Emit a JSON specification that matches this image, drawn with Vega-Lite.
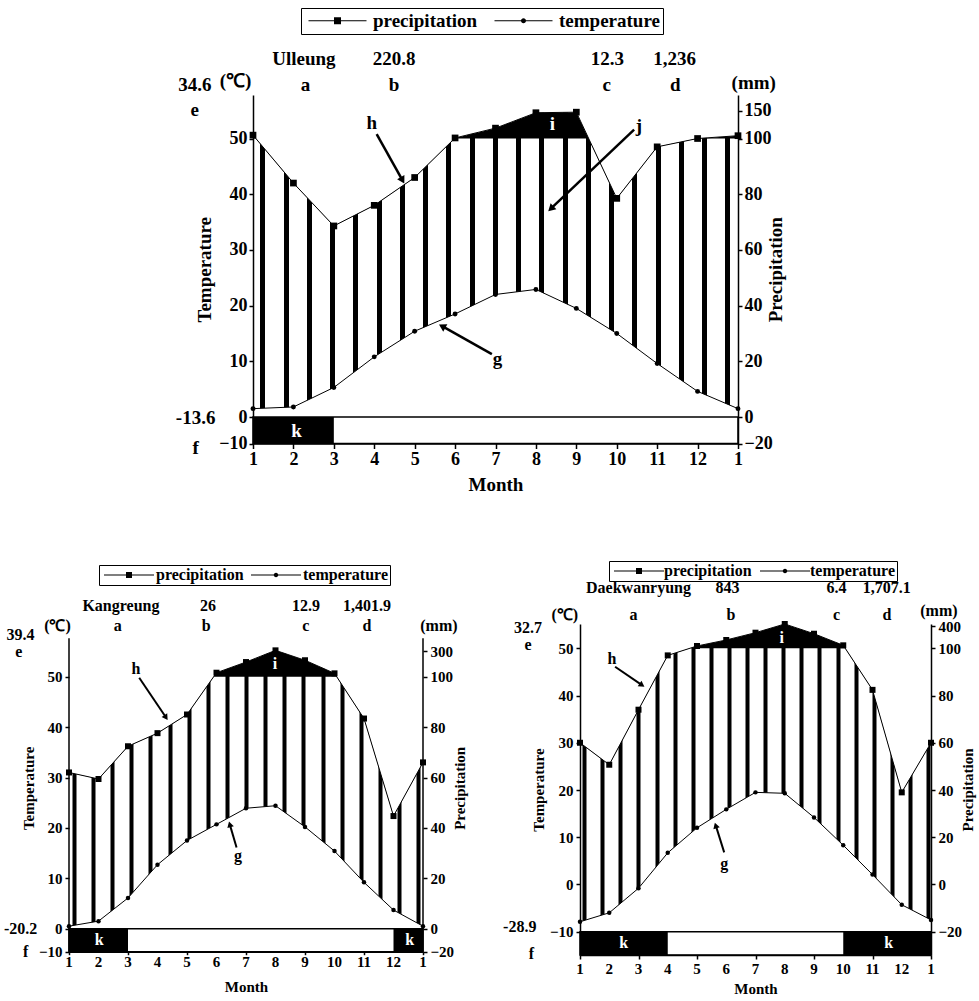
{
"$schema":"https://vega.github.io/schema/vega-lite/v6.json",
"background":"white",
"padding":{"left":3,"top":7,"right":2,"bottom":2},
"config":{
 "view":{"stroke":null},
 "axis":{"labelFont":"Liberation Serif","labelFontWeight":"bold","titleFont":"Liberation Serif","titleFontWeight":"bold","labelColor":"black","titleColor":"black","domainColor":"black","tickColor":"black","domainWidth":1.5,"tickWidth":1.5,"grid":false,"labelFlush":false,"labelOverlap":false},
 "text":{"font":"Liberation Serif","fontWeight":"bold","align":"center","baseline":"middle","color":"black"},
 "legend":{"labelFont":"Liberation Serif","labelFontWeight":"bold","labelColor":"black"}
},
"datasets":{
 "one":[{"k":1}],
 "series":[{"series":"precipitation"},{"series":"temperature"}],
 "u_month":[{"m":1,"T":1.5,"P":106},{"m":2,"T":1.8,"P":84},{"m":3,"T":5.3,"P":68.6},{"m":4,"T":10.8,"P":76},{"m":5,"T":15.4,"P":86},{"m":6,"T":18.5,"P":101},{"m":7,"T":22.0,"P":118.5},{"m":8,"T":22.9,"P":146},{"m":9,"T":19.5,"P":147},{"m":10,"T":15.0,"P":78.5},{"m":11,"T":9.6,"P":97},{"m":12,"T":4.6,"P":100},{"m":13,"T":1.5,"P":105}],
 "k_month":[{"m":1,"lab":"1","T":0.5,"P":62},{"m":2,"lab":"2","T":1.5,"P":59.4},{"m":3,"lab":"3","T":6.1,"P":72.4},{"m":4,"lab":"4","T":12.7,"P":77.6},{"m":5,"lab":"5","T":17.5,"P":85},{"m":6,"lab":"6","T":20.7,"P":131},{"m":7,"lab":"7","T":23.9,"P":214},{"m":8,"lab":"8","T":24.4,"P":305},{"m":9,"lab":"9","T":20.2,"P":228},{"m":10,"lab":"10","T":15.4,"P":126},{"m":11,"lab":"11","T":9.2,"P":83.4},{"m":12,"lab":"12","T":3.7,"P":44.7},{"m":13,"lab":"1","T":0.5,"P":66}],
 "d_month":[{"m":1,"lab":"1","T":-7.9,"P":60},{"m":2,"lab":"2","T":-6.0,"P":50.7},{"m":3,"lab":"3","T":-0.8,"P":74},{"m":4,"lab":"4","T":6.7,"P":97},{"m":5,"lab":"5","T":12.0,"P":131},{"m":6,"lab":"6","T":15.9,"P":212},{"m":7,"lab":"7","T":19.5,"P":310},{"m":8,"lab":"8","T":19.3,"P":423},{"m":9,"lab":"9","T":14.2,"P":296},{"m":10,"lab":"10","T":8.3,"P":140},{"m":11,"lab":"11","T":2.1,"P":82.4},{"m":12,"lab":"12","T":-4.3,"P":39},{"m":13,"lab":"1","T":-7.5,"P":60}],
 "u_frost":[{"from":1,"to":3}],
 "k_frost":[{"from":1,"to":3},{"from":12,"to":13}],
 "d_frost":[{"from":1,"to":4},{"from":10,"to":13}],
 "u_info":[{"station":"Ulleung","altitude":"220.8","meanTemp":"12.3","annualPrecip":"1,236","maxTemp":"34.6","minTemp":"-13.6"}],
 "k_info":[{"station":"Kangreung","altitude":"26","meanTemp":"12.9","annualPrecip":"1,401.9","maxTemp":"39.4","minTemp":"-20.2"}],
 "d_info":[{"station":"Daekwanryung","altitude":"843","meanTemp":"6.4","annualPrecip":"1,707.1","maxTemp":"32.7","minTemp":"-28.9"}]
},
"spacing":65,
"resolve":{"scale":{"shape":"independent"},"legend":{"shape":"independent"}},
"vconcat":[
 {"hconcat":[
  {"width":184,"height":1,"data":{"name":"one"},"mark":{"type":"point","opacity":0},"encoding":{}},
  {"width":485,"height":348.5,
   "resolve":{"scale":{"y":"independent"},"axis":{"x":"independent"}},
   "layer":[
    {"data":{"name":"u_month"},
     "encoding":{
      "x":{"field":"m","type":"quantitative","scale":{"domain":[1,13],"nice":false,"zero":false},
       "axis":{"orient":"top","values":[1.233,1.808,2.383,2.959,3.534,4.109,4.684,5.259,5.835,6.41,6.985,7.56,8.135,8.711,9.286,9.861,10.436,11.011,11.587,12.162,12.737],"grid":true,"gridColor":"black","gridWidth":5,"gridOpacity":1,"labels":false,"ticks":false,"domain":false,"title":null,"zindex":0}},
      "y":{"field":"P","type":"quantitative","stack":null,"scale":{"domain":[-20,0,100,150,177.7],"range":[348.5,322,43.5,15.5,0],"nice":false,"zero":false},"axis":null}},
     "layer":[
      {"mark":{"type":"area","color":"black","opacity":1},"encoding":{"y2":{"datum":100}}},
      {"mark":{"type":"area","color":"white","opacity":1},"encoding":{"y2":{"datum":177.7}}}
     ]},
    {"layer":[
     {"data":{"name":"u_month"},"mark":{"type":"area","color":"white","opacity":1},
      "encoding":{
       "x":{"field":"m","type":"quantitative","axis":{"orient":"bottom","values":[1,2,3,4,5,6,7,8,9,10,11,12,13],"labelExpr":"datum.value == 13 ? '1' : datum.label","format":"d","title":"Month","labelFontSize":18,"titleFontSize":19,"tickSize":5,"labelPadding":2,"titlePadding":7,"labelOverlap":false,"zindex":1}},
       "y":{"field":"T","type":"quantitative","stack":null,"scale":{"domain":[-10,0,50,57.81],"range":[348.5,322,43.5,0],"nice":false,"zero":false},
        "axis":{"orient":"left","values":[-10,0,10,20,30,40,50],"title":"Temperature","labelFontSize":18,"titleFontSize":19,"tickSize":4,"labelPadding":2,"titlePadding":4,"zindex":1}},
       "y2":{"datum":-10}}},
     {"data":{"name":"u_month"},"mark":{"type":"line","color":"black","strokeWidth":1},"encoding":{"x":{"field":"m","type":"quantitative"},"y":{"field":"T","type":"quantitative"}}},
     {"data":{"name":"u_month"},"mark":{"type":"point","shape":"circle","filled":true,"color":"black","size":24,"opacity":1},"encoding":{"x":{"field":"m","type":"quantitative"},"y":{"field":"T","type":"quantitative"}}},
     {"data":{"name":"one"},"mark":{"type":"rect","fill":"white","stroke":"black","strokeWidth":1.5},"encoding":{"x":{"datum":1},"x2":{"datum":13},"y":{"datum":0},"y2":{"datum":-10}}},
     {"data":{"name":"u_frost"},"mark":{"type":"rect","color":"black"},"encoding":{"x":{"field":"from","type":"quantitative"},"x2":{"field":"to"},"y":{"datum":0},"y2":{"datum":-10}}},
     {"data":{"name":"one"},"mark":{"type":"text","text":"k","color":"white","fontSize":19},"encoding":{"x":{"datum":2.08},"y":{"datum":-5.2}}},
     {"data":{"name":"u_info"},"mark":{"type":"text","fontSize":19},"encoding":{"x":{"datum":2.26},"y":{"datum":64.2},"text":{"field":"station"}}},
     {"data":{"name":"u_info"},"mark":{"type":"text","fontSize":19,"text":"a"},"encoding":{"x":{"datum":2.3},"y":{"datum":59.6}}},
     {"data":{"name":"u_info"},"mark":{"type":"text","fontSize":19},"encoding":{"x":{"datum":4.49},"y":{"datum":64.2},"text":{"field":"altitude"}}},
     {"data":{"name":"u_info"},"mark":{"type":"text","fontSize":19,"text":"b"},"encoding":{"x":{"datum":4.49},"y":{"datum":59.6}}},
     {"data":{"name":"u_info"},"mark":{"type":"text","fontSize":19},"encoding":{"x":{"datum":9.77},"y":{"datum":64.2},"text":{"field":"meanTemp"}}},
     {"data":{"name":"u_info"},"mark":{"type":"text","fontSize":19,"text":"c"},"encoding":{"x":{"datum":9.75},"y":{"datum":59.6}}},
     {"data":{"name":"u_info"},"mark":{"type":"text","fontSize":19},"encoding":{"x":{"datum":11.43},"y":{"datum":64.2},"text":{"field":"annualPrecip"}}},
     {"data":{"name":"u_info"},"mark":{"type":"text","fontSize":19,"text":"d"},"encoding":{"x":{"datum":11.45},"y":{"datum":59.6}}},
     {"data":{"name":"u_info"},"mark":{"type":"text","fontSize":19},"encoding":{"x":{"datum":-0.44},"y":{"datum":59.6},"text":{"field":"maxTemp"}}},
     {"data":{"name":"u_info"},"mark":{"type":"text","fontSize":19,"text":"e"},"encoding":{"x":{"datum":-0.44},"y":{"datum":55.1}}},
     {"data":{"name":"u_info"},"mark":{"type":"text","fontSize":19},"encoding":{"x":{"datum":-0.42},"y":{"datum":-0.3},"text":{"field":"minTemp"}}},
     {"data":{"name":"u_info"},"mark":{"type":"text","fontSize":19,"text":"f"},"encoding":{"x":{"datum":-0.42},"y":{"datum":-11.6}}},
     {"data":{"name":"u_info"},"mark":{"type":"text","fontSize":19,"text":"(℃)"},"encoding":{"x":{"datum":0.57},"y":{"datum":60.3}}},
     {"data":{"name":"u_info"},"mark":{"type":"text","fontSize":19,"text":"(mm)"},"encoding":{"x":{"datum":13.39},"y":{"datum":59.9}}},
     {"data":{"name":"u_info"},"mark":{"type":"text","fontSize":19,"text":"h"},"encoding":{"x":{"datum":3.94},"y":{"datum":52.8}}},
     {"data":{"name":"u_info"},"mark":{"type":"text","fontSize":19,"text":"i","color":"white"},"encoding":{"x":{"datum":8.41},"y":{"datum":52.6}}},
     {"data":{"name":"u_info"},"mark":{"type":"text","fontSize":19,"text":"j"},"encoding":{"x":{"datum":10.55},"y":{"datum":52.2}}},
     {"data":{"name":"u_info"},"mark":{"type":"text","fontSize":19,"text":"g"},"encoding":{"x":{"datum":7.05},"y":{"datum":10.4}}},
     {"data":{"name":"one"},"mark":{"type":"rule","color":"black","strokeWidth":2.5},"encoding":{"x":{"datum":4.06},"y":{"datum":50.8},"x2":{"datum":4.7},"y2":{"datum":42.5}}},
     {"data":{"name":"one"},"mark":{"type":"point","shape":"triangle-up","filled":true,"color":"black","size":70,"opacity":1,"angle":150.6},"encoding":{"x":{"datum":4.7},"y":{"datum":42.5}}},
     {"data":{"name":"one"},"mark":{"type":"rule","color":"black","strokeWidth":2.5},"encoding":{"x":{"datum":6.91},"y":{"datum":11.3},"x2":{"datum":5.68},"y2":{"datum":16.3}}},
     {"data":{"name":"one"},"mark":{"type":"point","shape":"triangle-up","filled":true,"color":"black","size":70,"opacity":1,"angle":299.7},"encoding":{"x":{"datum":5.68},"y":{"datum":16.3}}},
     {"data":{"name":"one"},"mark":{"type":"rule","color":"black","strokeWidth":2.5},"encoding":{"x":{"datum":10.43},"y":{"datum":51.6},"x2":{"datum":8.37},"y2":{"datum":37.4}}},
     {"data":{"name":"one"},"mark":{"type":"point","shape":"triangle-up","filled":true,"color":"black","size":70,"opacity":1,"angle":226.4},"encoding":{"x":{"datum":8.37},"y":{"datum":37.4}}},
     {"data":{"name":"series"},"mark":{"type":"point","filled":true,"color":"black","size":100,"opacity":0},
      "encoding":{"x":{"datum":7},"y":{"datum":20},
       "shape":{"field":"series","type":"nominal","scale":{"domain":["precipitation","temperature"],"range":["M-5.8,-0.12H5.8V0.12H-5.8ZM-0.7,-0.7H0.7V0.7H-0.7Z","M-5.8,-0.12H5.8V0.12H-5.8ZM-0.5,0A0.5,0.5,0,1,1,0.5,0A0.5,0.5,0,1,1,-0.5,0Z"]},
        "legend":{"title":null,"orient":"none","legendX":48,"legendY":-87,"direction":"horizontal","strokeColor":"black","fillColor":"white","padding":3,"symbolSize":100,"symbolOffset":24,"labelOffset":26,"columnPadding":12,"labelFontSize":19,"symbolFillColor":"black","symbolStrokeColor":"black","symbolStrokeWidth":0}}}}
    ]},
    {"data":{"name":"u_month"},
     "encoding":{"x":{"field":"m","type":"quantitative","axis":null},
      "y":{"field":"P","type":"quantitative","scale":{"domain":[-20,0,100,150,177.7],"range":[348.5,322,43.5,15.5,0],"nice":false,"zero":false},
       "axis":{"orient":"right","values":[-20,0,20,40,60,80,100,150],"title":"Precipitation","titleAngle":270,"labelFontSize":18,"titleFontSize":19,"tickSize":4,"labelPadding":2,"titlePadding":13,"zindex":1}}},
     "layer":[
      {"mark":{"type":"line","color":"black","strokeWidth":1}},
      {"mark":{"type":"point","shape":"square","filled":true,"color":"black","size":45,"opacity":1}}
     ]}
   ]}
 ],"spacing":0,"bounds":"flush","resolve":{"scale":{"shape":"independent"},"legend":{"shape":"independent"}}},
 {"hconcat":[
  {"width":354,"height":327.7,
   "resolve":{"scale":{"y":"independent"},"axis":{"x":"independent"}},
   "layer":[
    {"data":{"name":"k_month"},
     "encoding":{
      "x":{"field":"m","type":"quantitative","scale":{"domain":[1,13],"nice":false,"zero":false},
       "axis":{"orient":"top","values":[1.17,1.818,2.466,3.114,3.762,4.41,5.058,5.706,6.354,7.002,7.65,8.298,8.946,9.594,10.242,10.89,11.538,12.186,12.834],"grid":true,"gridColor":"black","gridWidth":4,"gridOpacity":1,"labels":false,"ticks":false,"domain":false,"title":null,"zindex":0}},
      "y":{"field":"P","type":"quantitative","stack":null,"scale":{"domain":[-20,0,100,300,510],"range":[327.7,304.7,52.7,27,0],"nice":false,"zero":false},"axis":null}},
     "layer":[
      {"mark":{"type":"area","color":"black","opacity":1},"encoding":{"y2":{"datum":100}}},
      {"mark":{"type":"area","color":"white","opacity":1},"encoding":{"y2":{"datum":510}}}
     ]},
    {"layer":[
     {"data":{"name":"k_month"},"mark":{"type":"area","color":"white","opacity":1},
      "encoding":{
       "x":{"field":"m","type":"quantitative","axis":{"orient":"bottom","values":[1,2,3,4,5,6,7,8,9,10,11,12,13],"labels":false,"title":"Month","titleFontSize":15,"tickSize":3,"titlePadding":24,"zindex":1}},
       "y":{"field":"T","type":"quantitative","stack":null,"scale":{"domain":[-10,0,50,60.46],"range":[327.7,304.7,52.7,0],"nice":false,"zero":false},
        "axis":{"orient":"left","values":[-10,0,10,20,30,40,50],"title":"Temperature","labelFontSize":15,"titleFontSize":15,"tickSize":4,"labelPadding":3,"titlePadding":2,"domain":false,"zindex":1}},
       "y2":{"datum":-10}}},
     {"data":{"name":"k_month"},"mark":{"type":"line","color":"black","strokeWidth":1},"encoding":{"x":{"field":"m","type":"quantitative"},"y":{"field":"T","type":"quantitative"}}},
     {"data":{"name":"k_month"},"mark":{"type":"point","shape":"circle","filled":true,"color":"black","size":20,"opacity":1},"encoding":{"x":{"field":"m","type":"quantitative"},"y":{"field":"T","type":"quantitative"}}},
     {"data":{"name":"k_month"},"mark":{"type":"text","fontSize":15,"dy":10},"encoding":{"x":{"field":"m","type":"quantitative"},"y":{"datum":-10},"text":{"field":"lab"}}},
     {"data":{"name":"one"},"mark":{"type":"rule","color":"black","strokeWidth":1.5},"encoding":{"x":{"datum":1},"y":{"datum":-10},"y2":{"datum":57.62}}},
     {"data":{"name":"one"},"mark":{"type":"rule","color":"black","strokeWidth":1.5},"encoding":{"x":{"datum":13},"y":{"datum":-10},"y2":{"datum":57.62}}},
     {"data":{"name":"one"},"mark":{"type":"rect","fill":"white","stroke":"black","strokeWidth":1.5},"encoding":{"x":{"datum":1},"x2":{"datum":13},"y":{"datum":0},"y2":{"datum":-10}}},
     {"data":{"name":"k_frost"},"mark":{"type":"rect","color":"black"},"encoding":{"x":{"field":"from","type":"quantitative"},"x2":{"field":"to"},"y":{"datum":0},"y2":{"datum":-10}}},
     {"data":{"name":"one"},"mark":{"type":"text","text":"k","color":"white","fontSize":16},"encoding":{"x":{"datum":2.02},"y":{"datum":-5}}},
     {"data":{"name":"one"},"mark":{"type":"text","text":"k","color":"white","fontSize":16},"encoding":{"x":{"datum":12.55},"y":{"datum":-5}}},
     {"data":{"name":"k_info"},"mark":{"type":"text","fontSize":16},"encoding":{"x":{"datum":2.76},"y":{"datum":64.0},"text":{"field":"station"}}},
     {"data":{"name":"k_info"},"mark":{"type":"text","fontSize":16,"text":"a"},"encoding":{"x":{"datum":2.65},"y":{"datum":60.1}}},
     {"data":{"name":"k_info"},"mark":{"type":"text","fontSize":16},"encoding":{"x":{"datum":5.71},"y":{"datum":64.0},"text":{"field":"altitude"}}},
     {"data":{"name":"k_info"},"mark":{"type":"text","fontSize":16,"text":"b"},"encoding":{"x":{"datum":5.65},"y":{"datum":60.1}}},
     {"data":{"name":"k_info"},"mark":{"type":"text","fontSize":16},"encoding":{"x":{"datum":9.03},"y":{"datum":64.0},"text":{"field":"meanTemp"}}},
     {"data":{"name":"k_info"},"mark":{"type":"text","fontSize":16,"text":"c"},"encoding":{"x":{"datum":9.03},"y":{"datum":60.1}}},
     {"data":{"name":"k_info"},"mark":{"type":"text","fontSize":16},"encoding":{"x":{"datum":11.1},"y":{"datum":64.0},"text":{"field":"annualPrecip"}}},
     {"data":{"name":"k_info"},"mark":{"type":"text","fontSize":16,"text":"d"},"encoding":{"x":{"datum":11.1},"y":{"datum":60.1}}},
     {"data":{"name":"k_info"},"mark":{"type":"text","fontSize":16},"encoding":{"x":{"datum":-0.64},"y":{"datum":58.3},"text":{"field":"maxTemp"}}},
     {"data":{"name":"k_info"},"mark":{"type":"text","fontSize":16,"text":"e"},"encoding":{"x":{"datum":-0.7},"y":{"datum":54.9}}},
     {"data":{"name":"k_info"},"mark":{"type":"text","fontSize":16},"encoding":{"x":{"datum":-0.64},"y":{"datum":0},"text":{"field":"minTemp"}}},
     {"data":{"name":"k_info"},"mark":{"type":"text","fontSize":16,"text":"f"},"encoding":{"x":{"datum":-0.47},"y":{"datum":-10.1}}},
     {"data":{"name":"k_info"},"mark":{"type":"text","fontSize":16,"text":"(℃)"},"encoding":{"x":{"datum":0.61},"y":{"datum":60.1}}},
     {"data":{"name":"k_info"},"mark":{"type":"text","fontSize":16,"text":"(mm)"},"encoding":{"x":{"datum":13.54},"y":{"datum":60.1}}},
     {"data":{"name":"k_info"},"mark":{"type":"text","fontSize":16,"text":"h"},"encoding":{"x":{"datum":3.27},"y":{"datum":51.5}}},
     {"data":{"name":"k_info"},"mark":{"type":"text","fontSize":16,"text":"i","color":"white"},"encoding":{"x":{"datum":7.98},"y":{"datum":52.5}}},
     {"data":{"name":"k_info"},"mark":{"type":"text","fontSize":16,"text":"g"},"encoding":{"x":{"datum":6.73},"y":{"datum":14.4}}},
     {"data":{"name":"one"},"mark":{"type":"rule","color":"black","strokeWidth":2},"encoding":{"x":{"datum":3.38},"y":{"datum":49.8},"x2":{"datum":4.29},"y2":{"datum":41.9}}},
     {"data":{"name":"one"},"mark":{"type":"point","shape":"triangle-up","filled":true,"color":"black","size":45,"opacity":1,"angle":146.3},"encoding":{"x":{"datum":4.29},"y":{"datum":41.9}}},
     {"data":{"name":"one"},"mark":{"type":"rule","color":"black","strokeWidth":2},"encoding":{"x":{"datum":6.68},"y":{"datum":16.1},"x2":{"datum":6.45},"y2":{"datum":20.7}}},
     {"data":{"name":"one"},"mark":{"type":"point","shape":"triangle-up","filled":true,"color":"black","size":45,"opacity":1,"angle":344},"encoding":{"x":{"datum":6.45},"y":{"datum":20.7}}},
     {"data":{"name":"series"},"mark":{"type":"point","filled":true,"color":"black","size":100,"opacity":0},
      "encoding":{"x":{"datum":7},"y":{"datum":20},
       "shape":{"field":"series","type":"nominal","scale":{"domain":["precipitation","temperature"],"range":["M-5,-0.12H5V0.12H-5ZM-0.6,-0.6H0.6V0.6H-0.6Z","M-5,-0.12H5V0.12H-5ZM-0.45,0A0.45,0.45,0,1,1,0.45,0A0.45,0.45,0,1,1,-0.45,0Z"]},
        "legend":{"title":null,"orient":"none","legendX":30,"legendY":-59,"direction":"horizontal","strokeColor":"black","fillColor":"white","padding":2,"symbolSize":100,"symbolOffset":20,"labelOffset":19,"columnPadding":4,"labelFontSize":16,"symbolFillColor":"black","symbolStrokeColor":"black","symbolStrokeWidth":0}}}}
    ]},
    {"data":{"name":"k_month"},
     "encoding":{"x":{"field":"m","type":"quantitative","axis":null},
      "y":{"field":"P","type":"quantitative","scale":{"domain":[-20,0,100,300,510],"range":[327.7,304.7,52.7,27,0],"nice":false,"zero":false},
       "axis":{"orient":"right","values":[-20,0,20,40,60,80,100,300],"title":"Precipitation","titleAngle":270,"labelFontSize":15,"titleFontSize":15,"tickSize":4,"labelPadding":3,"titlePadding":14,"domain":false,"zindex":1}}},
     "layer":[
      {"mark":{"type":"line","color":"black","strokeWidth":1}},
      {"mark":{"type":"point","shape":"square","filled":true,"color":"black","size":36,"opacity":1}}
     ]}
   ]},
  {"width":351,"height":331,
   "resolve":{"scale":{"y":"independent"},"axis":{"x":"independent"}},
   "layer":[
    {"data":{"name":"d_month"},
     "encoding":{
      "x":{"field":"m","type":"quantitative","scale":{"domain":[1,13],"nice":false,"zero":false},
       "axis":{"orient":"top","values":[1.14,1.759,2.378,2.997,3.616,4.235,4.854,5.473,6.092,6.711,7.33,7.949,8.568,9.187,9.806,10.425,11.044,11.663,12.282,12.901],"grid":true,"gridColor":"black","gridWidth":4,"gridOpacity":1,"labels":false,"ticks":false,"domain":false,"title":null,"zindex":0}},
      "y":{"field":"P","type":"quantitative","stack":null,"scale":{"domain":[-30,-20,100,400,423],"range":[331,307.7,24.3,2,0],"nice":false,"zero":false},"axis":null}},
     "layer":[
      {"mark":{"type":"area","color":"black","opacity":1},"encoding":{"y2":{"datum":100}}},
      {"mark":{"type":"area","color":"white","opacity":1},"encoding":{"y2":{"datum":423}}}
     ]},
    {"layer":[
     {"data":{"name":"d_month"},"mark":{"type":"area","color":"white","opacity":1},
      "encoding":{
       "x":{"field":"m","type":"quantitative","axis":{"orient":"bottom","values":[1,2,3,4,5,6,7,8,9,10,11,12,13],"labels":false,"title":"Month","titleFontSize":15,"tickSize":4,"titlePadding":22,"zindex":1}},
       "y":{"field":"T","type":"quantitative","stack":null,"scale":{"domain":[-15,-10,50,55.15],"range":[331,307.7,24.3,0],"nice":false,"zero":false},
        "axis":{"orient":"left","values":[-10,0,10,20,30,40,50],"title":"Temperature","labelFontSize":15,"titleFontSize":15,"tickSize":4,"labelPadding":3,"titlePadding":3,"zindex":1}},
       "y2":{"datum":-15}}},
     {"data":{"name":"d_month"},"mark":{"type":"line","color":"black","strokeWidth":1},"encoding":{"x":{"field":"m","type":"quantitative"},"y":{"field":"T","type":"quantitative"}}},
     {"data":{"name":"d_month"},"mark":{"type":"point","shape":"circle","filled":true,"color":"black","size":20,"opacity":1},"encoding":{"x":{"field":"m","type":"quantitative"},"y":{"field":"T","type":"quantitative"}}},
     {"data":{"name":"d_month"},"mark":{"type":"text","fontSize":15,"dy":14},"encoding":{"x":{"field":"m","type":"quantitative"},"y":{"datum":-15},"text":{"field":"lab"}}},
     {"data":{"name":"one"},"mark":{"type":"rect","fill":"white","stroke":"black","strokeWidth":1.5},"encoding":{"x":{"datum":1},"x2":{"datum":13},"y":{"datum":-10},"y2":{"datum":-15}}},
     {"data":{"name":"d_frost"},"mark":{"type":"rect","color":"black"},"encoding":{"x":{"field":"from","type":"quantitative"},"x2":{"field":"to"},"y":{"datum":-10},"y2":{"datum":-15}}},
     {"data":{"name":"one"},"mark":{"type":"text","text":"k","color":"white","fontSize":16},"encoding":{"x":{"datum":2.49},"y":{"datum":-12.5}}},
     {"data":{"name":"one"},"mark":{"type":"text","text":"k","color":"white","fontSize":16},"encoding":{"x":{"datum":11.55},"y":{"datum":-12.5}}},
     {"data":{"name":"d_info"},"mark":{"type":"text","fontSize":16},"encoding":{"x":{"datum":3.0},"y":{"datum":62.7},"text":{"field":"station"}}},
     {"data":{"name":"d_info"},"mark":{"type":"text","fontSize":16,"text":"a"},"encoding":{"x":{"datum":2.83},"y":{"datum":57.0}}},
     {"data":{"name":"d_info"},"mark":{"type":"text","fontSize":16},"encoding":{"x":{"datum":6.04},"y":{"datum":62.7},"text":{"field":"altitude"}}},
     {"data":{"name":"d_info"},"mark":{"type":"text","fontSize":16,"text":"b"},"encoding":{"x":{"datum":6.16},"y":{"datum":57.0}}},
     {"data":{"name":"d_info"},"mark":{"type":"text","fontSize":16},"encoding":{"x":{"datum":9.77},"y":{"datum":62.7},"text":{"field":"meanTemp"}}},
     {"data":{"name":"d_info"},"mark":{"type":"text","fontSize":16,"text":"c"},"encoding":{"x":{"datum":9.77},"y":{"datum":57.0}}},
     {"data":{"name":"d_info"},"mark":{"type":"text","fontSize":16},"encoding":{"x":{"datum":11.49},"y":{"datum":62.7},"text":{"field":"annualPrecip"}}},
     {"data":{"name":"d_info"},"mark":{"type":"text","fontSize":16,"text":"d"},"encoding":{"x":{"datum":11.49},"y":{"datum":57.0}}},
     {"data":{"name":"d_info"},"mark":{"type":"text","fontSize":16},"encoding":{"x":{"datum":-0.78},"y":{"datum":54.4},"text":{"field":"maxTemp"}}},
     {"data":{"name":"d_info"},"mark":{"type":"text","fontSize":16,"text":"e"},"encoding":{"x":{"datum":-0.78},"y":{"datum":50.8}}},
     {"data":{"name":"d_info"},"mark":{"type":"text","fontSize":16},"encoding":{"x":{"datum":-1.06},"y":{"datum":-9.05},"text":{"field":"minTemp"}}},
     {"data":{"name":"d_info"},"mark":{"type":"text","fontSize":16,"text":"f"},"encoding":{"x":{"datum":-0.66},"y":{"datum":-14.7}}},
     {"data":{"name":"d_info"},"mark":{"type":"text","fontSize":16,"text":"(℃)"},"encoding":{"x":{"datum":0.48},"y":{"datum":57.0}}},
     {"data":{"name":"d_info"},"mark":{"type":"text","fontSize":16,"text":"(mm)"},"encoding":{"x":{"datum":13.27},"y":{"datum":58.0}}},
     {"data":{"name":"d_info"},"mark":{"type":"text","fontSize":16,"text":"h"},"encoding":{"x":{"datum":2.09},"y":{"datum":47.8}}},
     {"data":{"name":"d_info"},"mark":{"type":"text","fontSize":16,"text":"i","color":"white"},"encoding":{"x":{"datum":7.9},"y":{"datum":52.1}}},
     {"data":{"name":"d_info"},"mark":{"type":"text","fontSize":16,"text":"g"},"encoding":{"x":{"datum":5.93},"y":{"datum":4.4}}},
     {"data":{"name":"one"},"mark":{"type":"rule","color":"black","strokeWidth":2},"encoding":{"x":{"datum":2.2},"y":{"datum":46.1},"x2":{"datum":3.12},"y2":{"datum":42.2}}},
     {"data":{"name":"one"},"mark":{"type":"point","shape":"triangle-up","filled":true,"color":"black","size":45,"opacity":1,"angle":124.4},"encoding":{"x":{"datum":3.12},"y":{"datum":42.2}}},
     {"data":{"name":"one"},"mark":{"type":"rule","color":"black","strokeWidth":2},"encoding":{"x":{"datum":5.93},"y":{"datum":6.8},"x2":{"datum":5.64},"y2":{"datum":12.5}}},
     {"data":{"name":"one"},"mark":{"type":"point","shape":"triangle-up","filled":true,"color":"black","size":45,"opacity":1,"angle":342.7},"encoding":{"x":{"datum":5.64},"y":{"datum":12.5}}},
     {"data":{"name":"series"},"mark":{"type":"point","filled":true,"color":"black","size":100,"opacity":0},
      "encoding":{"x":{"datum":7},"y":{"datum":20},
       "shape":{"field":"series","type":"nominal","scale":{"domain":["precipitation","temperature"],"range":["M-5,-0.12H5V0.12H-5ZM-0.6,-0.6H0.6V0.6H-0.6Z","M-5,-0.12H5V0.12H-5ZM-0.45,0A0.45,0.45,0,1,1,0.45,0A0.45,0.45,0,1,1,-0.45,0Z"]},
        "legend":{"title":null,"orient":"none","legendX":29,"legendY":-63,"direction":"horizontal","strokeColor":"black","fillColor":"white","padding":2,"symbolSize":100,"symbolOffset":20,"labelOffset":17,"columnPadding":5,"labelFontSize":16,"symbolFillColor":"black","symbolStrokeColor":"black","symbolStrokeWidth":0}}}}
    ]},
    {"data":{"name":"d_month"},
     "encoding":{"x":{"field":"m","type":"quantitative","axis":null},
      "y":{"field":"P","type":"quantitative","scale":{"domain":[-30,-20,100,400,423],"range":[331,307.7,24.3,2,0],"nice":false,"zero":false},
       "axis":{"orient":"right","values":[-20,0,20,40,60,80,100,400],"title":"Precipitation","titleAngle":270,"labelFontSize":15,"titleFontSize":15,"tickSize":4,"labelPadding":3,"titlePadding":14,"zindex":1}}},
     "layer":[
      {"mark":{"type":"line","color":"black","strokeWidth":1}},
      {"mark":{"type":"point","shape":"square","filled":true,"color":"black","size":36,"opacity":1}}
     ]}
   ]}
 ],"spacing":157,"bounds":"flush","resolve":{"scale":{"shape":"independent"},"legend":{"shape":"independent"}}}
]
}
